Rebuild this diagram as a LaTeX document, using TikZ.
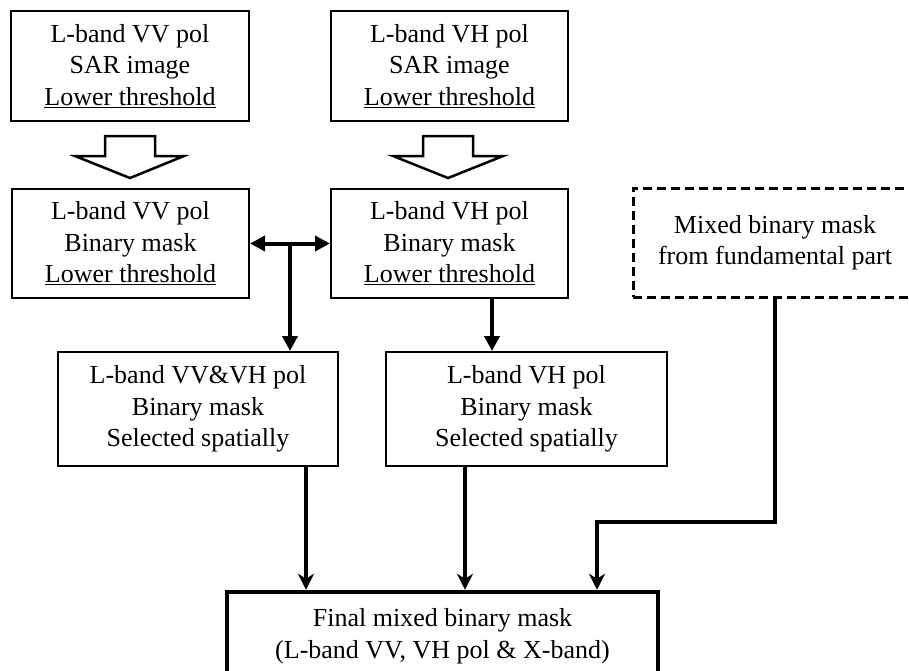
\documentclass[tikz,border=0pt]{standalone}
\usepackage{fontspec}
\setmainfont{Liberation Serif}
\usetikzlibrary{arrows.meta,calc}
\begin{document}
\begin{tikzpicture}[x=1pt,y=-1pt,
  box/.style={draw, line width=2pt, align=center, inner sep=0pt, font=\fontsize{26}{31.5}\selectfont},
  conn/.style={line width=4pt, -{Triangle[length=15pt,width=15pt]}},
  conn2/.style={line width=4pt, -{Stealth[length=16pt,width=16pt,inset=5pt]}},
  biconn/.style={line width=4pt, {Triangle[length=15pt,width=15pt]}-{Triangle[length=15pt,width=15pt]}},
  hollow/.style={draw, line width=2.5pt, fill=white, line join=miter}]
\useasboundingbox (0,0) rectangle (909,670);
\clip (0,0) rectangle (909,670);
% boxes
\node[box, minimum width=238pt, minimum height=110pt] (A) at (130,66) {L-band VV pol\\SAR image\\\underline{Lower threshold}};
\node[box, minimum width=237pt, minimum height=110pt] (B) at (449.5,66) {L-band VH pol\\SAR image\\\underline{Lower threshold}};
\node[box, minimum width=237pt, minimum height=109pt] (C) at (130.5,243.5) {L-band VV pol\\Binary mask\\\underline{Lower threshold}};
\node[box, minimum width=237pt, minimum height=109pt] (D) at (449.5,243.5) {L-band VH pol\\Binary mask\\\underline{Lower threshold}};
\node[box, minimum width=280pt, minimum height=114pt] (E) at (198,409) {L-band VV\&VH pol\\Binary mask\\Selected spatially};
\node[box, minimum width=281pt, minimum height=114pt] (F) at (526.5,409) {L-band VH pol\\Binary mask\\Selected spatially};
\node[box, line width=3pt, dash pattern=on 9pt off 5pt, minimum width=284pt, minimum height=109pt] (G) at (775,242.5) {Mixed binary mask\\from fundamental part};
\node[box, line width=4.5pt, minimum width=431pt, minimum height=88pt] (H) at (442.5,636) {Final mixed binary mask\\(L-band VV, VH pol \& X-band)};
% hollow arrows
\draw[hollow] ($(A.south)+(-25,14)$) -- ($(A.south)+(25,14)$) -- ($(A.south)+(25,34)$) -- ($(A.south)+(54,34)$) -- ($(A.south)+(0,56)$) -- ($(A.south)+(-55,34)$) -- ($(A.south)+(-25,34)$) -- cycle;
\draw[hollow] ($(B.south)+(-26.5,14)$) -- ($(B.south)+(23.5,14)$) -- ($(B.south)+(23.5,34)$) -- ($(B.south)+(53.5,34)$) -- ($(B.south)+(-1.5,56)$) -- ($(B.south)+(-56.5,34)$) -- ($(B.south)+(-26.5,34)$) -- cycle;
% connectors
\draw[biconn] (C.east) -- (D.west);
\coordinate (J) at ($(C.east)!0.5!(D.west)$);
\draw[line width=4pt] ($(J)+(0,-2)$) -- (J);
\draw[conn] (J) -- (J |- E.north);
\coordinate (d1) at ($(D.south)+(42.5,0)$);
\draw[conn] (d1) -- (d1 |- F.north);
\coordinate (e1) at ($(E.south)+(108,0)$);
\draw[conn2] (e1) -- (e1 |- H.north);
\coordinate (f1) at ($(F.south)+(-61.5,0)$);
\draw[conn2] (f1) -- (f1 |- H.north);
\coordinate (K) at (597,522);
\draw[conn2, line join=miter] (G.south) |- (K) -- (K |- H.north);
\end{tikzpicture}
\end{document}
